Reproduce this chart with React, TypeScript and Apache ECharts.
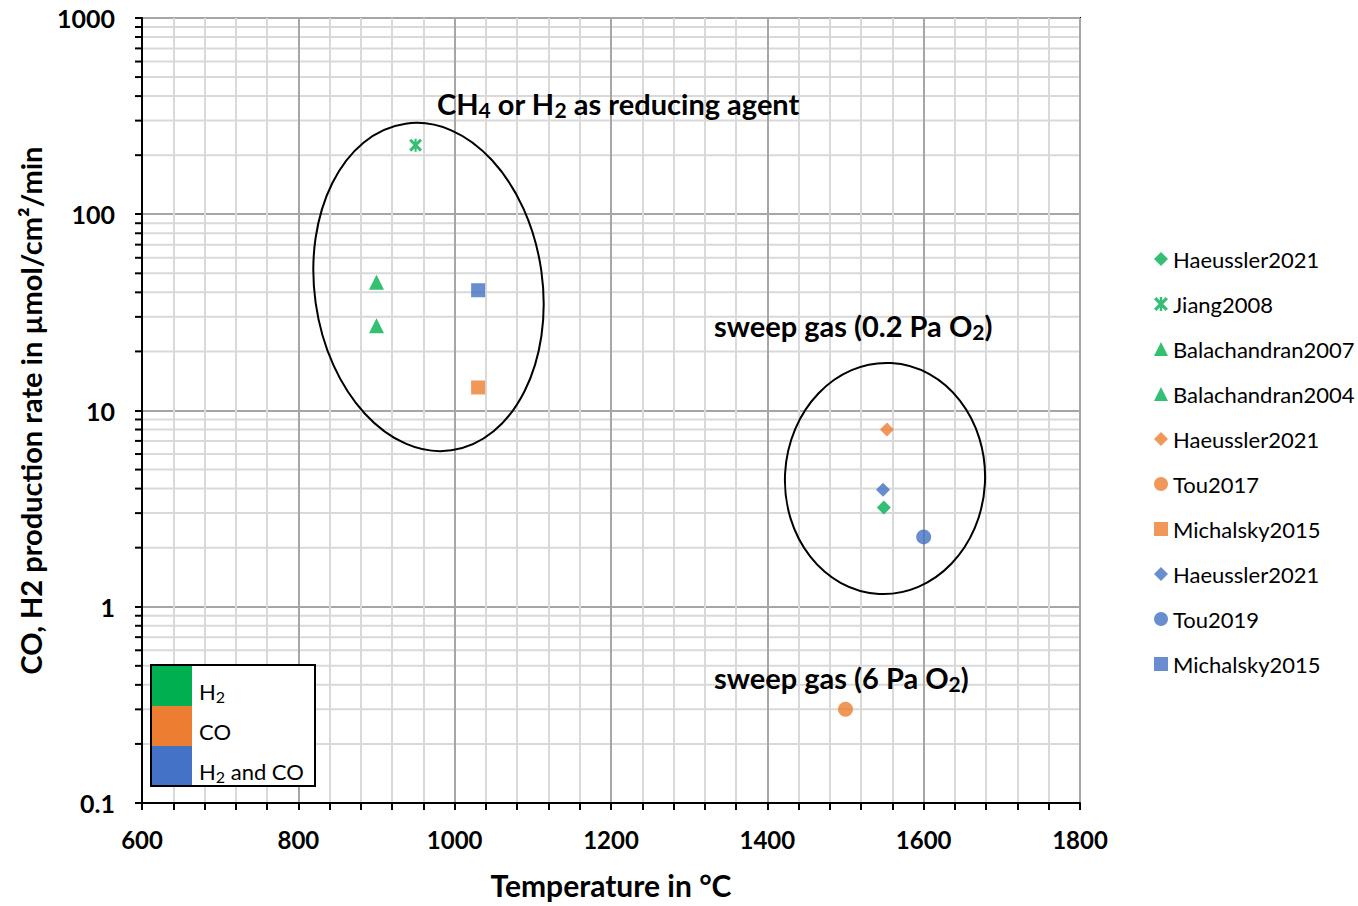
import React, { useEffect, useRef } from 'react';
import * as echarts from 'echarts';

const GREEN = '#00B050';
const ORANGE = '#ED7D31';
const BLUE = '#4472C4';
const FONT = 'Lato';

const JIANG_SYMBOL = 'path://M5 0L7 0L7 12L5 12Z M0 2L2 0L12 10L10 12Z M10 0L12 2L2 12L0 10Z';

// series (unique ids after '#', hidden in the legend)
const seriesNames = [
  'Haeussler2021#h2',
  'Jiang2008',
  'Balachandran2007',
  'Balachandran2004',
  'Haeussler2021#co',
  'Tou2017',
  'Michalsky2015#co',
  'Haeussler2021#mix',
  'Tou2019',
  'Michalsky2015#mix',
];
const temperatures = [1549, 950, 900, 900, 1553, 1500, 1030, 1548, 1600, 1030];
const rates = [3.2, 225, 45, 27, 8.0, 0.3, 13.1, 3.95, 2.27, 41];
const seriesColors = [GREEN, GREEN, GREEN, GREEN, ORANGE, ORANGE, ORANGE, BLUE, BLUE, BLUE];
const seriesSymbols = ['diamond', JIANG_SYMBOL, 'triangle', 'triangle', 'diamond', 'circle', 'rect', 'diamond', 'circle', 'rect'];
const seriesSymbolSizes = [14, 13, 15, 15, 14, 15, 14, 14, 15, 14];

const xMin = 600;
const xMax = 1800;
const xInterval = 200;
const yMin = 0.1;
const yMax = 1000;
const yMinorValues = [
  0.2, 0.3, 0.4, 0.5, 0.6, 0.7, 0.8, 0.9,
  2, 3, 4, 5, 6, 7, 8, 9,
  20, 30, 40, 50, 60, 70, 80, 90,
  200, 300, 400, 500, 600, 700, 800, 900,
];

const gasLabels = ['{m|H}{s|2}', '{m|CO}', '{m|H}{s|2}{m| and CO}'];
const gasColors = [GREEN, ORANGE, BLUE];

const richBig = {
  m: { fontSize: 29, fontWeight: 'bold', fontFamily: FONT, color: '#000', lineHeight: 34 },
  s: { fontSize: 21, fontWeight: 'bold', fontFamily: FONT, color: '#000', lineHeight: 8, verticalAlign: 'bottom' },
};
const richSmall = {
  m: { fontSize: 22, fontFamily: FONT, color: '#000', lineHeight: 26 },
  s: { fontSize: 16, fontFamily: FONT, color: '#000', lineHeight: 14, verticalAlign: 'bottom' },
};

const Z = 100;

export default function App() {
  const ref = useRef<HTMLDivElement>(null);
  useEffect(() => {
    if (!ref.current) return;
    const chart = echarts.init(ref.current, undefined, { renderer: 'svg' });

    const scatterSeries = seriesNames.map((name, i) => ({
      type: 'scatter',
      name,
      z: 5,
      symbol: seriesSymbols[i],
      symbolSize: seriesSymbolSizes[i],
      itemStyle: { color: seriesColors[i] },
      data: [[temperatures[i], rates[i]]],
    }));

    const option: any = {
      animation: false,
      backgroundColor: '#fff',
      grid: {
        left: 142, top: 18, width: 938, height: 785,
        show: true, borderColor: '#000', borderWidth: 2, backgroundColor: 'transparent',
      },
      legend: {
        data: seriesNames,
        orient: 'vertical',
        left: 1149,
        top: 243,
        itemWidth: 14,
        itemHeight: 14,
        itemGap: 23,
        selectedMode: false,
        formatter: (n: string) => n.replace(/#.*$/, ''),
        textStyle: { fontSize: 22, fontFamily: FONT, color: '#000', lineHeight: 20 },
      },
      xAxis: {
        type: 'value', min: xMin, max: xMax, interval: xInterval,
        axisLine: { show: true, lineStyle: { color: '#000', width: 2 } },
        axisTick: { show: true, length: 7, lineStyle: { color: '#000', width: 2 } },
        minorTick: { show: true, splitNumber: 5, length: 7, lineStyle: { color: '#000', width: 2 } },
        splitLine: { show: true, lineStyle: { color: '#a6a6a6', width: 2 } },
        minorSplitLine: { show: true, lineStyle: { color: '#d9d9d9', width: 2 } },
        axisLabel: {
          fontSize: 24, fontWeight: 'bold', fontFamily: FONT, color: '#000', margin: 24,
          formatter: (v: number) => String(v),
        },
        name: 'Temperature in °C',
        nameLocation: 'middle',
        nameGap: 67,
        nameTextStyle: { fontSize: 30, fontWeight: 'bold', fontFamily: FONT, color: '#000' },
      },
      yAxis: {
        type: 'log', logBase: 10, min: yMin, max: yMax,
        axisLine: { show: true, lineStyle: { color: '#000', width: 2 } },
        axisTick: { show: true, length: 7, lineStyle: { color: '#000', width: 2 } },
        splitLine: { show: true, lineStyle: { color: '#a6a6a6', width: 2 } },
        axisLabel: {
          fontSize: 25, fontWeight: 'bold', fontFamily: FONT, color: '#000', margin: 27,
          formatter: (v: number) => (v < 1 ? v.toFixed(1) : String(Math.round(v))),
        },
        name: 'CO, H2 production rate in µmol/cm²/min',
        nameLocation: 'middle',
        nameGap: 97,
        nameTextStyle: { fontSize: 29, fontWeight: 'bold', fontFamily: FONT, color: '#000' },
      },
      series: [
        {
          type: 'custom',
          silent: true,
          z: -1,
          clip: false,
          data: yMinorValues.map((v) => [xMin, v]),
          encode: { x: 0, y: 1 },
          renderItem: (_p: any, api: any) => {
            const v = api.value(1);
            const a = api.coord([xMin, v]);
            const b = api.coord([xMax, v]);
            return {
              type: 'group',
              children: [
                { type: 'line', shape: { x1: a[0], y1: a[1], x2: b[0], y2: b[1] }, style: { stroke: '#d9d9d9', lineWidth: 2 } },
                { type: 'line', shape: { x1: a[0] - 7, y1: a[1], x2: a[0], y2: a[1] }, style: { stroke: '#000', lineWidth: 2 } },
              ],
            };
          },
        },
        ...scatterSeries,
      ],
      graphic: [
        {
          type: 'ellipse', x: 428.5, y: 287, rotation: (8 * Math.PI) / 180, z: Z,
          shape: { cx: 0, cy: 0, rx: 114, ry: 165 },
          style: { fill: 'none', stroke: '#000', lineWidth: 2 },
        },
        {
          type: 'ellipse', x: 885, y: 478.5, rotation: (-3 * Math.PI) / 180, z: Z,
          shape: { cx: 0, cy: 0, rx: 100, ry: 115.5 },
          style: { fill: 'none', stroke: '#000', lineWidth: 2 },
        },
        {
          type: 'text', x: 437, y: 103, z: Z,
          style: { text: '{m|CH}{s|4}{m| or H}{s|2}{m| as reducing agent}', rich: richBig, textVerticalAlign: 'middle' },
        },
        {
          type: 'text', x: 714, y: 325, z: Z,
          style: { text: '{m|sweep gas (0.2 Pa O}{s|2}{m|)}', rich: richBig, textVerticalAlign: 'middle' },
        },
        {
          type: 'text', x: 714, y: 677, z: Z,
          style: { text: '{m|sweep gas (6 Pa O}{s|2}{m|)}', rich: richBig, textVerticalAlign: 'middle' },
        },
        { type: 'rect', z: Z, shape: { x: 151, y: 665, width: 164, height: 121 }, style: { fill: '#fff', stroke: '#000', lineWidth: 2 } },
        ...gasColors.map((c, i) => ({
          type: 'rect', z: Z + 1,
          shape: { x: 152, y: 666 + i * 40, width: 40, height: 40 - (i === 2 ? 1 : 0) },
          style: { fill: c },
        })),
        ...gasLabels.map((t, i) => ({
          type: 'text', z: Z + 1, x: 199, y: 691 + i * 40,
          style: { text: t, rich: richSmall, textVerticalAlign: 'middle' },
        })),
      ],
    };
    chart.setOption(option);
    return () => chart.dispose();
  }, []);
  return (
    <div
      ref={ref}
      style={{ position: 'fixed', left: 0, top: 0, width: 1358, height: 906, background: '#fff' }}
    />
  );
}
